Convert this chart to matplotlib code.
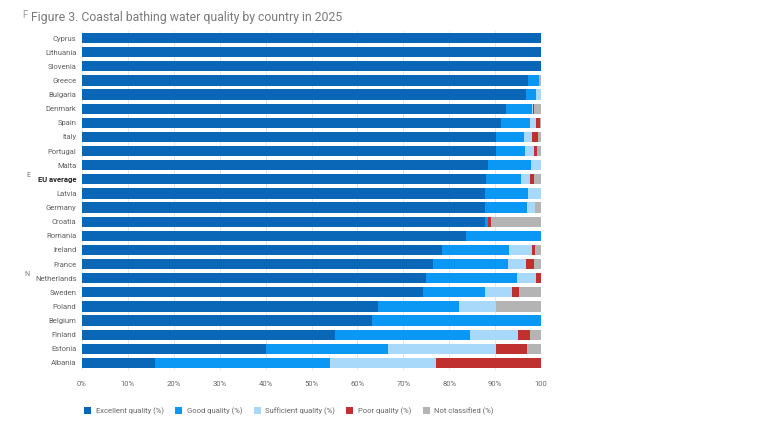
import matplotlib
matplotlib.use("Agg")
import matplotlib.pyplot as plt
import numpy as np
from matplotlib.patches import Patch

plt.rcParams["font.family"] = ["Roboto", "DejaVu Sans"]

countries = [
    "Cyprus", "Lithuania", "Slovenia", "Greece", "Bulgaria", "Denmark", "Spain",
    "Italy", "Portugal", "Malta", "EU average", "Latvia", "Germany", "Croatia",
    "Romania", "Ireland", "France", "Netherlands", "Sweden", "Poland", "Belgium",
    "Finland", "Estonia", "Albania",
]
excellent = [100, 100, 100, 97.2, 96.7, 92.4, 91.3, 90.2, 90.1, 88.5, 88.0, 87.9,
             87.9, 87.7, 83.7, 78.4, 76.4, 75.0, 74.3, 64.5, 63.2, 55.1, 40.0, 16.0]
good = [0, 0, 0, 2.4, 2.3, 5.6, 6.3, 6.2, 6.5, 9.3, 7.6, 9.2,
        9.0, 0.8, 16.3, 14.7, 16.5, 19.7, 13.4, 17.7, 36.8, 29.4, 26.7, 38.0]
sufficient = [0, 0, 0, 0, 1.0, 0.3, 1.4, 1.7, 1.9, 2.2, 1.9, 2.9,
              1.9, 0, 0, 4.9, 3.8, 4.3, 5.9, 7.9, 0, 10.4, 23.4, 23.1]
poor = [0, 0, 0, 0, 0, 0.2, 0.7, 1.3, 0.6, 0, 0.9, 0,
        0, 0.5, 0, 0.8, 1.7, 1.0, 1.6, 0, 0, 2.6, 6.8, 22.9]
not_classified = [0, 0, 0, 0.4, 0, 1.5, 0.3, 0.6, 0.9, 0, 1.6, 0,
                  1.2, 11.0, 0, 1.2, 1.6, 0, 4.8, 9.9, 0, 2.5, 3.1, 0]

series = [
    ("Excellent quality (%)", excellent, "#0a66b7"),
    ("Good quality (%)", good, "#0b98f4"),
    ("Sufficient quality (%)", sufficient, "#a8d9fb"),
    ("Poor quality (%)", poor, "#bf302e"),
    ("Not classified (%)", not_classified, "#b4b4b4"),
]
x_ticks = [0, 10, 20, 30, 40, 50, 60, 70, 80, 90, 100]
x_tick_labels = ["0%", "10%", "20%", "30%", "40%", "50%", "60%", "70%", "80%", "90%", "100"]

W, H = 784, 425
fig = plt.figure(figsize=(W / 100, H / 100), dpi=100)
fig.patch.set_facecolor("white")
ax = fig.add_axes([82 / W, 1 - 370 / H, (541 - 82) / W, (370 - 31) / H])

y = np.arange(len(countries))
left = np.zeros(len(countries))
for label, values, color in series:
    vals = np.asarray(values, dtype=float)
    ax.barh(y, vals, left=left, height=0.72, color=color, label=label, zorder=2)
    left += vals

ax.set_ylim(len(countries) - 0.5, -0.5)
ax.set_xlim(0, 100)
ax.set_yticks(y)
ax.set_yticklabels(countries, fontsize=5.5, color="#606060")
for tick in ax.get_yticklabels():
    if tick.get_text() == "EU average":
        tick.set_fontweight("bold")
        tick.set_color("#222222")
ax.set_xticks(x_ticks)
ax.set_xticklabels(x_tick_labels, fontsize=5.5, color="#6a6a6a")
ax.tick_params(axis="both", length=0)
ax.tick_params(axis="x", pad=8)
ax.tick_params(axis="y", pad=4)
ax.grid(axis="x", color="#e3e3e3", linewidth=0.6, zorder=0)
ax.set_axisbelow(True)
for spine in ax.spines.values():
    spine.set_visible(False)

fig.text(31 / W, 1 - 17 / H, "Figure 3. Coastal bathing water quality by country in 2025",
         fontsize=8.8, color="#7a7a7a", va="center", ha="left")
fig.text(22 / W, 1 - 15 / H, "F", fontsize=7, color="#999999", va="center", ha="left")
fig.text(26 / W, 1 - 176 / H, "E", fontsize=5, color="#777777", va="center", ha="left")
fig.text(24 / W, 1 - 275 / H, "N", fontsize=5, color="#777777", va="center", ha="left")

handles = [Patch(facecolor=c, edgecolor="none", label=l) for l, _, c in series]
fig.legend(handles=handles, loc="center", bbox_to_anchor=(289 / W, 1 - 411 / H),
           ncol=5, frameon=False, fontsize=5.5, labelcolor="#666666",
           handlelength=0.9, handleheight=0.9, handletextpad=0.6, columnspacing=1.5)

fig.savefig("out.png", dpi=100, facecolor="white")
